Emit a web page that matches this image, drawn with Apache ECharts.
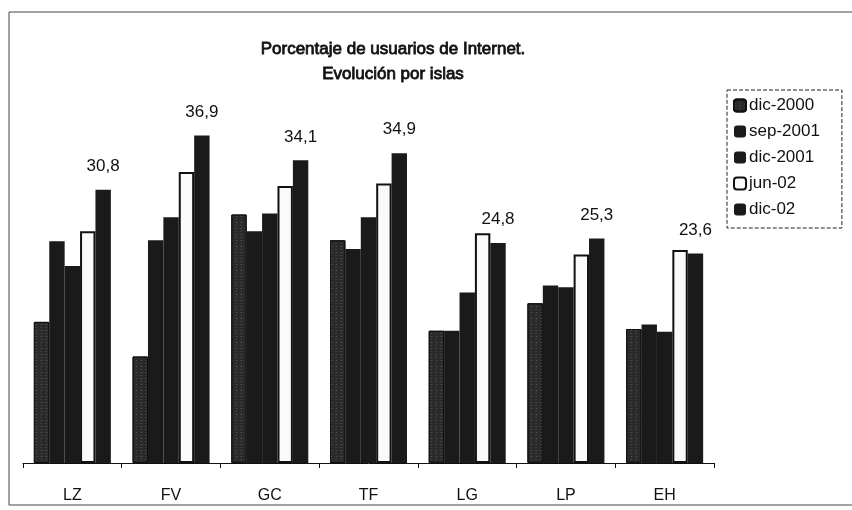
<!DOCTYPE html>
<html>
<head>
<meta charset="utf-8">
<script src="https://cdn.jsdelivr.net/npm/echarts@6/dist/echarts.min.js"></script>
<style>
html,body{margin:0;padding:0;background:#fff;}
#c{width:852px;height:510px;}
</style>
</head>
<body>
<div id="c"></div>
<script>
var categories = ['LZ', 'FV', 'GC', 'TF', 'LG', 'LP', 'EH'];
var seriesNames = ['dic-2000', 'sep-2001', 'dic-2001', 'jun-02', 'dic-02'];
var dic2000 = [15.9, 12.0, 28.0, 25.1, 14.9, 18.0, 15.1];
var sep2001 = [25.0, 25.1, 26.1, 24.1, 14.9, 20.0, 15.6];
var dic2001 = [22.2, 27.7, 28.1, 27.7, 19.2, 19.8, 14.8];
var jun02 = [26.1, 32.8, 31.2, 31.5, 25.9, 23.5, 24.0];
var dic02 = [30.8, 36.9, 34.1, 34.9, 24.8, 25.3, 23.6];
var titleLines = ['Porcentaje de usuarios de Internet.', 'Evolución por islas'];

var chart = echarts.init(document.getElementById('c'));
var font = 'Liberation Sans, Arial, sans-serif';

function bar(name, data, style, label) {
  var s = {
    name: name,
    type: 'bar',
    data: data,
    barGap: '0%',
    barCategoryGap: '22%',
    itemStyle: style,
    emphasis: {disabled: true}
  };
  if (label) {
    s.label = {
      show: true,
      position: 'top',
      distance: 15,
      color: '#111',
      fontFamily: font,
      fontSize: 17,
      formatter: function (p) { return p.value.toFixed(1).replace('.', ','); }
    };
  }
  return s;
}

var darkDots = {
  color: '#2a2a2a',
  borderColor: '#111',
  borderWidth: 1,
  decal: {symbol: 'rect', symbolSize: 0.5, dashArrayX: [[2, 3], [3, 2]], dashArrayY: [1, 2], color: 'rgba(255,255,255,0.4)', rotation: 0}
};

chart.setOption({
  animation: false,
  aria: {enabled: false, decal: {show: true}},
  title: {
    text: titleLines.join('\n'),
    left: 388,
    textAlign: 'center',
    top: 32,
    textStyle: {fontFamily: font, fontSize: 17, fontWeight: 'normal', color: '#111', lineHeight: 25, textBorderColor: '#111', textBorderWidth: 0.8}
  },
  legend: {
    orient: 'vertical',
    left: 727,
    top: 90,
    width: 121,
    padding: [7, 22, 10, 6],
    itemGap: 9,
    itemWidth: 12,
    itemHeight: 12,
    borderColor: '#222',
    borderWidth: 1,
    borderType: 'dashed',
    data: seriesNames,
    textStyle: {fontFamily: font, fontSize: 17, color: '#111', padding: [0, 0, 0, -2]}
  },
  grid: {left: 23, right: 138, top: 108, bottom: 47},
  xAxis: {
    type: 'category',
    data: categories,
    axisLine: {lineStyle: {color: '#111', width: 1}},
    axisTick: {show: true, length: 5, lineStyle: {color: '#111'}},
    axisLabel: {color: '#111', fontFamily: font, fontSize: 16, margin: 25}
  },
  yAxis: {
    type: 'value',
    min: 0,
    max: 40,
    show: false,
    splitLine: {show: false}
  },
  graphic: [
    {type: 'polyline', shape: {points: [[870, 12], [9, 12], [9, 505], [870, 505]]}, style: {stroke: '#444', lineWidth: 1, fill: null}, silent: true}
  ],
  series: [
    bar(seriesNames[0], dic2000, darkDots),
    bar(seriesNames[1], sep2001, {color: '#1a1a1a'}),
    bar(seriesNames[2], dic2001, {color: '#1a1a1a'}),
    bar(seriesNames[3], jun02, {color: '#fafafa', borderColor: '#111', borderWidth: 2}),
    bar(seriesNames[4], dic02, {color: '#1a1a1a'}, true)
  ]
});
</script>
</body>
</html>
